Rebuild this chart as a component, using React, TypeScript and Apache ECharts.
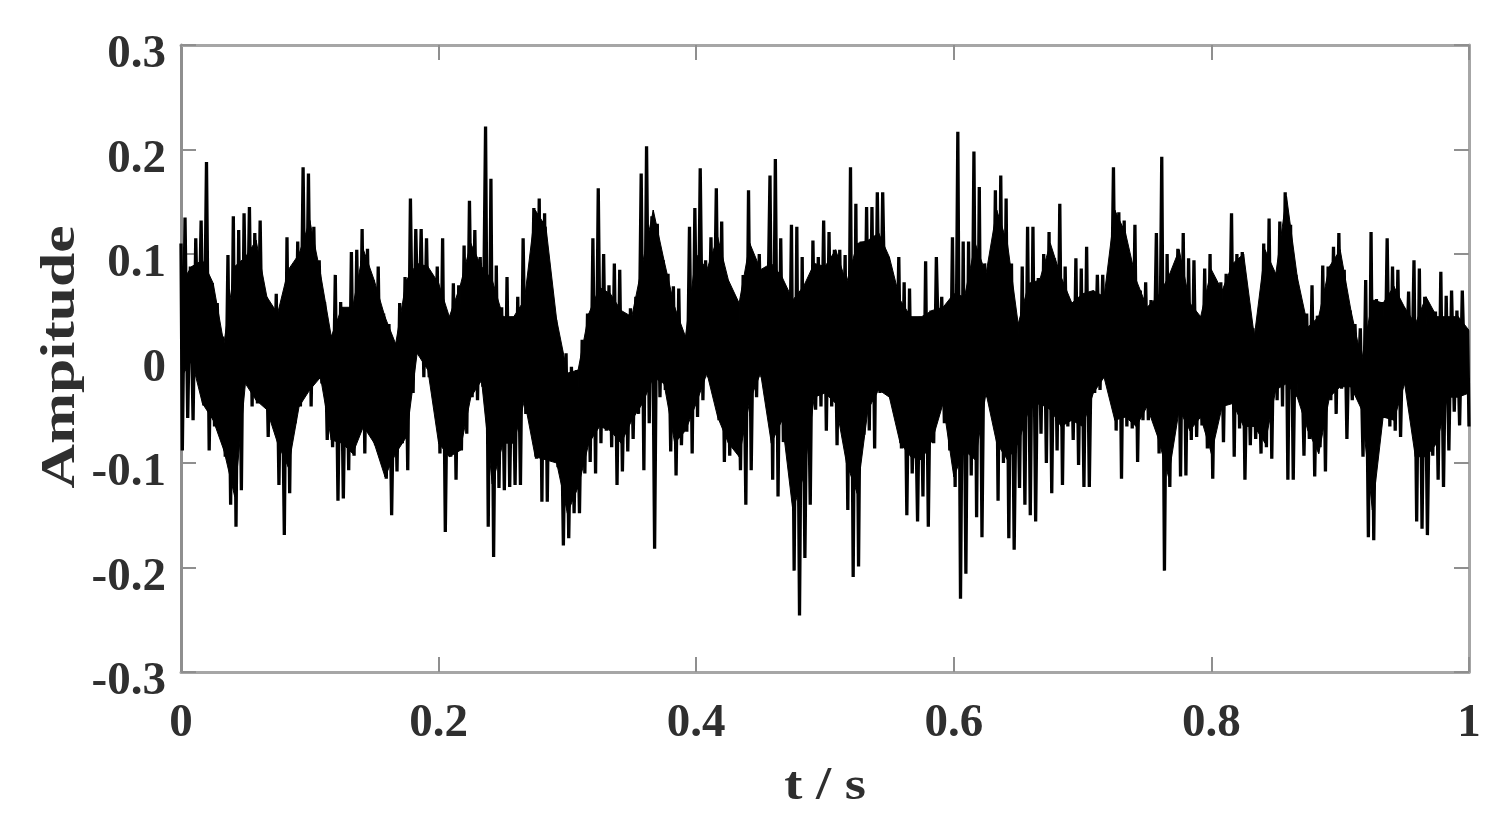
import React, { useEffect, useRef } from "react";
import * as echarts from "echarts";

const xTicks = [0, 0.2, 0.4, 0.6, 0.8, 1];
const yTicks = [-0.3, -0.2, -0.1, 0, 0.1, 0.2, 0.3];
const xTitle = "t / s";
const yTitle = "Ampitude";

// Upper and lower extremes of the signal, in thousandths, read per column across t = 0..1
const upperPeaks = [
  110,135,88,115,132,188,72,53,21,99,136,123,139,145,120,132,59,49,62,49,116,85,112,183,177,126,94,54,21,80,
  54,40,102,104,124,105,73,88,43,33,14,53,78,153,124,124,115,73,88,115,40,72,70,108,151,123,97,222,172,89,
  49,78,40,59,115,75,144,153,139,75,38,8,5,-8,-11,18,43,115,
  163,100,70,91,85,40,48,59,177,203,136,129,94,81,69,67,21,126,144,182,94,116,163,131,75,49,53,80,161,88,
  100,81,175,191,115,46,128,126,97,46,113,97,132,121,104,104,99,183,148,112,145,145,159,159,94,65,97,73,67,-5,
  40,93,46,97,59,49,116,217,112,112,198,164,91,89,161,175,153,91,33,88,126,
  126,77,100,121,96,148,88,53,96,86,107,62,80,80,53,183,140,132,94,128,65,73,56,120,193,100,72,105,120,96,
  94,40,86,100,59,73,81,139,100,102,33,29,10,110,134,81,131,159,128,80,30,43,70,41,89,88,107,120,85,46,
  33,29,75,121,57,54,115,88,85,49,64,94,86,59,14,45,83,60,65,46,65,27,
];
const lowerPeaks = [
  -88,-57,-59,-5,-45,-88,-65,-43,-94,-140,-161,-126,-24,-46,-43,-41,-75,-49,-121,-169,-129,-62,-46,-33,-46,-18,-24,-78,-85,-136,
  -134,-107,-93,-62,-91,-40,-83,-88,-115,-150,-108,-81,-107,-33,5,-18,-18,-33,-91,-166,-94,-116,-88,-72,-37,-40,-27,-161,-190,-124,
  -126,-123,-121,-121,-53,0,-96,-137,-137,-86,-104,-179,-172,-148,-148,-110,-99,-110,
  -81,-69,-85,-121,-108,-89,-77,-53,-107,-62,-182,-37,-30,-89,-112,-83,-70,-91,-56,-40,-18,-18,-59,-99,-93,-81,-107,-140,-107,-37,
  -18,5,-116,-132,-80,-94,-203,-246,-191,-140,-49,-46,-69,-46,-83,-53,-145,-209,-199,-73,-69,-86,-33,18,-38,-41,-86,-150,-110,-156,
  -132,-161,-81,-14,-62,-88,-123,-230,-206,-112,-152,-171,-37,-45,-136,-100,-172,-183,-124,-140,-150,
  -156,-72,-100,-129,-88,-121,-65,-78,-102,-123,-123,-33,-30,-18,-14,-69,-115,-65,-67,-99,-59,-59,-35,-91,-203,-123,-59,-113,-112,-78,
  -75,-64,-86,-115,-40,-80,-26,-94,-67,-116,-83,-77,-91,-85,-96,-40,-46,-116,-116,-24,-93,-77,-113,-85,-108,-40,-53,-29,-77,-40,
  -33,-94,-171,-174,-57,-57,-65,-69,-75,-18,-54,-156,-163,-169,-93,-116,-123,-88,-51,-64,-33,-65,
];

// Solid core of the trace, in thousandths, read at every second column across t = 0..1
const coreUpper = [
  72,88,94,72,14,88,97,113,59,43,85,100,132,81,21,49,49,104,75,40,14,75,91,88,72,40,69,110,88,75,40,40,56,142,126,37,-14,-11,43,
  68,62,46,40,91,142,94,49,21,100,85,116,75,53,110,85,91,78,56,69,91,88,104,72,110,113,120,97,56,40,40,46,49,62,59,110,81,142,110,33,72,
  75,110,78,53,62,65,59,142,120,75,49,59,78,104,53,40,85,65,91,100,21,104,81,155,78,30,40,88,104,46,-2,56,53,69,49,33,59,40,40,40,27,
];
const coreLower = [
  -18,-2,-43,-59,-88,-132,-24,-40,-49,-81,-104,-46,-30,-18,-78,-81,-91,-65,-81,-113,-91,-75,5,-11,-81,-94,-88,-37,-21,-120,-81,-81,-40,-94,-97,-100,-148,-123,-81,
  -65,-69,-81,-59,-43,-18,-24,-81,-69,-43,-14,-56,-81,-94,-40,-14,-81,-59,-145,-113,-37,-33,-43,-100,-129,-49,-30,-37,-81,-94,-97,-78,-43,-113,-88,-97,-33,-81,-97,-81,-49,
  -43,-49,-65,-59,-65,-33,-18,-59,-56,-65,-46,-75,-113,-49,-69,-56,-91,-46,-43,-65,-65,-81,-30,-24,-37,-69,-91,-37,-27,-27,-49,-145,-56,-59,-24,-94,-94,-81,-37,-37,-33,
];

const FONT = "'Liberation Serif', serif";
const INK = "#2f2f2f";
const AXIS_Y = "#8f8f8f";
const AXIS_X = "#a6a6a6";

export default function App() {
  const ref = useRef<HTMLDivElement>(null);
  useEffect(() => {
    const chart = echarts.init(ref.current!, null, { renderer: "svg" });
    const n = Math.min(upperPeaks.length, lowerPeaks.length);
    const last = n - 1;
    const signal: number[][] = [];
    for (let i = 0; i < n; i++) {
      signal.push([Math.max(0, (i - 0.25) / last), upperPeaks[i] / 1000]);
      signal.push([Math.min(1, (i + 0.25) / last), lowerPeaks[i] / 1000]);
    }
    const coreLast = Math.min(coreUpper.length, coreLower.length) - 1;
    const core = coreUpper.slice(0, coreLast + 1).map((u, j) => [
      j / coreLast,
      u / 1000,
      coreLower[j] / 1000,
      Math.min(j + 1, coreLast) / coreLast,
      coreUpper[Math.min(j + 1, coreLast)] / 1000,
      coreLower[Math.min(j + 1, coreLast)] / 1000,
    ]);
    const lineOf = (color: string) => ({ show: true, onZero: false, lineStyle: { color, width: 3 } });
    const tickOf = (color: string) => ({ show: true, inside: true, length: 15, lineStyle: { color, width: 2 } });
    chart.setOption({
      animation: false,
      backgroundColor: "#ffffff",
      grid: { left: 181, right: 42, top: 45, bottom: 159, containLabel: false },
      xAxis: [
        {
          type: "value", min: 0, max: 1, interval: 0.2, position: "bottom",
          axisLine: lineOf(AXIS_X), axisTick: tickOf(AXIS_Y), splitLine: { show: false },
          axisLabel: {
            color: INK, fontFamily: FONT, fontWeight: "bold", fontSize: 47, margin: 24,
            formatter: (v: number) => String(xTicks.find((t) => Math.abs(t - v) < 1e-6) ?? v),
          },
        },
        {
          type: "value", min: 0, max: 1, interval: 0.2, position: "top",
          axisLine: lineOf(AXIS_X), axisTick: tickOf(AXIS_Y), splitLine: { show: false }, axisLabel: { show: false },
        },
      ],
      yAxis: [
        {
          type: "value", min: -0.3, max: 0.3, interval: 0.1, position: "left",
          axisLine: lineOf(AXIS_Y), axisTick: tickOf(AXIS_Y), splitLine: { show: false },
          axisLabel: {
            color: INK, fontFamily: FONT, fontWeight: "bold", fontSize: 47, margin: 15,
            formatter: (v: number) => "{a|" + String(yTicks.find((t) => Math.abs(t - v) < 1e-6) ?? v) + "}",
            rich: { a: { color: INK, fontFamily: FONT, fontWeight: "bold", fontSize: 47, padding: [12, 0, 0, 0] } },
          },
        },
        {
          type: "value", min: -0.3, max: 0.3, interval: 0.1, position: "right",
          axisLine: lineOf(AXIS_X), axisTick: tickOf(AXIS_Y), splitLine: { show: false }, axisLabel: { show: false },
        },
      ],
      graphic: [
        {
          type: "text", x: 825, y: 783, scaleX: 1.16,
          style: { text: xTitle, fill: INK, font: `bold 47px ${FONT}`, textAlign: "center", textVerticalAlign: "middle" },
        },
        {
          type: "text", x: 58, y: 357, rotation: Math.PI / 2, scaleX: 1.28,
          style: { text: yTitle, fill: INK, font: `bold 48px ${FONT}`, textAlign: "center", textVerticalAlign: "middle" },
        },
      ],
      series: [
        {
          type: "custom", xAxisIndex: 0, yAxisIndex: 0, data: core, clip: true,
          encode: { x: 0, y: 1 },
          renderItem: (_: unknown, api: any) => {
            const a = api.coord([api.value(0), api.value(1)]);
            const b = api.coord([api.value(3), api.value(4)]);
            const c = api.coord([api.value(3), api.value(5)]);
            const d = api.coord([api.value(0), api.value(2)]);
            return {
              type: "polygon",
              shape: { points: [a, b, c, d] },
              style: { fill: "#000000", stroke: "#000000", lineWidth: 1 },
            };
          },
        },
        {
          type: "line", xAxisIndex: 0, yAxisIndex: 0, data: signal,
          showSymbol: false, symbol: "none", clip: true,
          lineStyle: { color: "#000000", width: 3.3, join: "bevel" },
        },
      ],
    });
    return () => chart.dispose();
  }, []);
  return (
    <div
      ref={ref}
      style={{ position: "fixed", left: 0, top: 0, width: 1511, height: 831, filter: "blur(0.7px)" }}
    />
  );
}
